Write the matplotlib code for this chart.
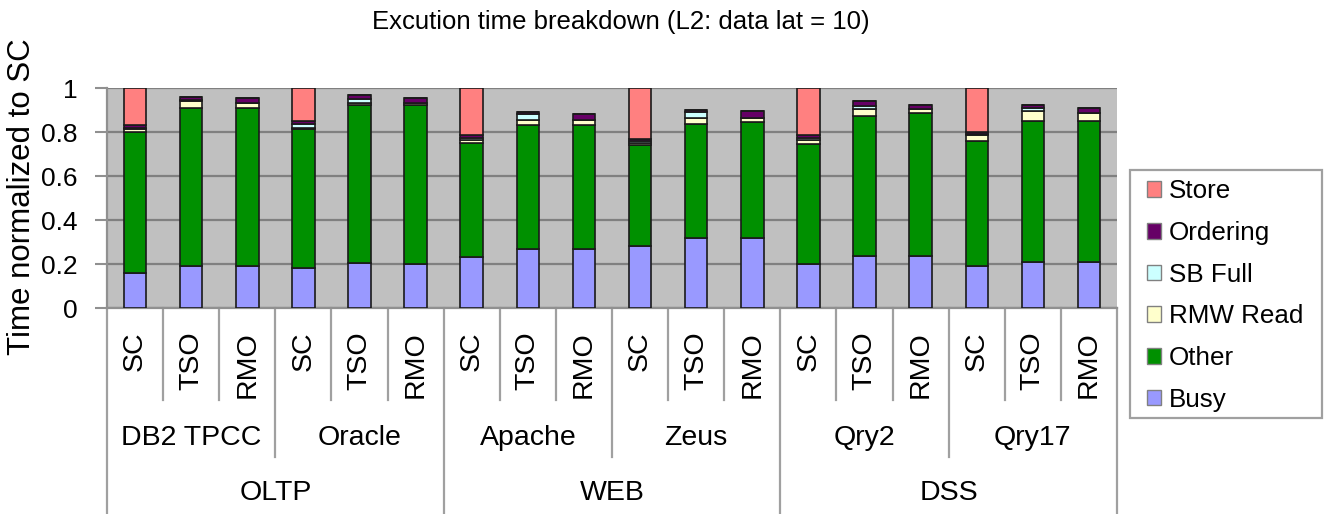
import matplotlib
matplotlib.use("Agg")
import matplotlib.pyplot as plt
import matplotlib.transforms as mtransforms
from matplotlib.patches import Rectangle
import numpy as np

plt.rcParams['font.family'] = ['Liberation Sans', 'DejaVu Sans']

# ---- data ----
configs = ["SC", "TSO", "RMO"] * 6
workloads = ["DB2 TPCC", "Oracle", "Apache", "Zeus", "Qry2", "Qry17"]
suites = ["OLTP", "WEB", "DSS"]
series_names = ["Busy", "Other", "RMW Read", "SB Full", "Ordering", "Store"]
busy     = [0.16, 0.19, 0.19, 0.18, 0.205, 0.20, 0.23, 0.27, 0.27, 0.28, 0.32, 0.32, 0.20, 0.235, 0.235, 0.19, 0.21, 0.21]
other    = [0.64, 0.72, 0.72, 0.635, 0.72, 0.725, 0.52, 0.56, 0.56, 0.46, 0.515, 0.525, 0.545, 0.64, 0.65, 0.57, 0.64, 0.64]
rmw_read = [0.015, 0.03, 0.02, 0.005, 0.005, 0.005, 0.015, 0.025, 0.025, 0.01, 0.03, 0.02, 0.02, 0.03, 0.02, 0.025, 0.045, 0.035]
sb_full  = [0.005, 0.005, 0.0, 0.015, 0.02, 0.0, 0.01, 0.025, 0.0, 0.01, 0.025, 0.0, 0.01, 0.015, 0.0, 0.005, 0.015, 0.0]
ordering = [0.01, 0.015, 0.025, 0.015, 0.02, 0.025, 0.01, 0.01, 0.025, 0.01, 0.01, 0.03, 0.01, 0.02, 0.02, 0.01, 0.015, 0.025]
store    = [0.17, 0.0, 0.0, 0.15, 0.0, 0.0, 0.215, 0.0, 0.0, 0.23, 0.0, 0.0, 0.215, 0.0, 0.0, 0.20, 0.0, 0.0]
yticks = [0, 0.2, 0.4, 0.6, 0.8, 1]
ytick_labels = ["0", "0.2", "0.4", "0.6", "0.8", "1"]

colors = {"Busy": "#9999FF", "Other": "#009000", "RMW Read": "#FFFFCC",
          "SB Full": "#CCFFFF", "Ordering": "#660066", "Store": "#FF8080"}

W, H = 1329, 514
fig = plt.figure(figsize=(W / 100, H / 100), dpi=100)

def fx(px):
    return px / W

def fy(py):
    return 1 - py / H

ax_l, ax_r, ax_t, ax_b = 107, 1117, 88, 308
ax = fig.add_axes([fx(ax_l), fy(ax_b), fx(ax_r) - fx(ax_l), fy(ax_t) - fy(ax_b)])
ax.set_facecolor("#C0C0C0")

x = np.arange(len(configs))
bottom = np.zeros(len(configs))
data = [busy, other, rmw_read, sb_full, ordering, store]
for name, vals in zip(series_names, data):
    vals = np.array(vals)
    ax.bar(x, vals, width=0.4, bottom=bottom, color=colors[name],
           edgecolor="#1a1a1a", linewidth=1.2, zorder=3)
    bottom += vals

ax.set_xlim(-0.5, len(configs) - 0.5)
ax.set_ylim(0, 1)
ax.set_yticks(yticks)
ax.set_yticklabels(ytick_labels, fontsize=19)
ax.yaxis.grid(True, color="#808080", linewidth=1.6, zorder=1)
ax.set_axisbelow(True)
ax.tick_params(axis="y", length=9, width=1.5, color="#909090", pad=12)
ax.set_xticks([])
for s in ["top", "right"]:
    ax.spines[s].set_visible(False)
for s in ["left", "bottom"]:
    ax.spines[s].set_color("#909090")
    ax.spines[s].set_linewidth(1.6)

fig.text(fx(22), fy(197), "Time normalized to SC", rotation=90, fontsize=22.5,
         ha="center", va="center")

fig.text(fx(621), fy(22), "Excution time breakdown (L2: data lat = 10)",
         fontsize=18.5, ha="center", va="center")

# hierarchical category axis
trans = mtransforms.blended_transform_factory(ax.transData, fig.transFigure)
n = len(configs)
for k in range(n + 1):
    xpos = k - 0.5
    if k % 6 == 0:
        yend = 514
    elif k % 3 == 0:
        yend = 457
    else:
        yend = 400
    ax.plot([xpos, xpos], [fy(ax_b), fy(yend)], transform=trans, color="#A0A0A0",
            linewidth=1.6, clip_on=False, zorder=2)

for i, c in enumerate(configs):
    ax.text(i, fy(331), c, transform=trans, rotation=90, ha="center", va="top",
            fontsize=20.5)
for g, wl in enumerate(workloads):
    ax.text(3 * g + 1, fy(438), wl, transform=trans, ha="center", va="center",
            fontsize=20.5)
for s, su in enumerate(suites):
    ax.text(6 * s + 2.5, fy(493), su, transform=trans, ha="center", va="center",
            fontsize=20.5)

# legend (frame drawn separately)
frame = Rectangle((fx(1130), fy(418)), fx(1322) - fx(1130), fy(170) - fy(418),
                  transform=fig.transFigure, facecolor="white", edgecolor="#A0A0A0",
                  linewidth=1.6, zorder=0)
fig.patches.append(frame)
leg_order = ["Store", "Ordering", "SB Full", "RMW Read", "Other", "Busy"]
leg_handles = [Rectangle((0, 0), 1, 1, facecolor=colors[nm], edgecolor="#808080",
                         linewidth=1.0) for nm in leg_order]
leg = fig.legend(leg_handles, leg_order, loc="upper left",
                 bbox_to_anchor=(fx(1147), fy(179.5)), bbox_transform=fig.transFigure,
                 borderaxespad=0, borderpad=0, fontsize=18.7, frameon=False,
                 handlelength=0.55, handleheight=0.55, handletextpad=0.3,
                 labelspacing=0.68)

fig.savefig("out.png", dpi=100)
